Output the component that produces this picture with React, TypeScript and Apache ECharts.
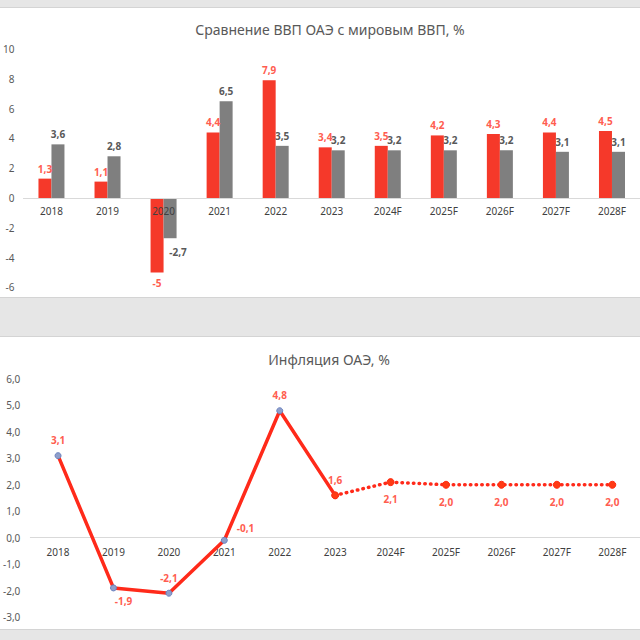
import React, { useEffect, useRef } from "react";
import * as echarts from "echarts";

const years = ["2018", "2019", "2020", "2021", "2022", "2023", "2024F", "2025F", "2026F", "2027F", "2028F"];
const uaeGdp = [1.3, 1.1, -5, 4.4, 7.9, 3.4, 3.5, 4.2, 4.3, 4.4, 4.5];
const worldGdp = [3.6, 2.8, -2.7, 6.5, 3.5, 3.2, 3.2, 3.2, 3.2, 3.1, 3.1];
const inflation = [3.1, -1.9, -2.1, -0.1, 4.8, 1.6, 2.1, 2.0, 2.0, 2.0, 2.0];
const actualCount = 6; // 2018–2023 are actual, rest forecast

const gdpTitle = "Сравнение ВВП ОАЭ с мировым ВВП, %";
const inflTitle = "Инфляция ОАЭ, %";

const FONT = "Noto Sans";
const RED = "#f5392a";
const GREY = "#7f7f7f";
const RED_LABEL = "#ff5d50";
const TEXT = "#595959";

const comma = (v: number) => String(v).replace(".", ",");
const comma1 = (v: number) => v.toFixed(1).replace(".", ",");

// grid geometry
const G1 = { top: 49, height: 238.4, min: -6, max: 10 };
const G2 = { top: 379, height: 238, min: -3, max: 6 };
const zeroOffset = (g: { height: number; min: number; max: number }) =>
  -(g.height * (0 - g.min)) / (g.max - g.min);

export default function App() {
  const ref = useRef<HTMLDivElement>(null);
  useEffect(() => {
    if (!ref.current) return;
    const chart = echarts.init(ref.current, null, { renderer: "svg" });

    const uaeData = uaeGdp.map((v) => ({
      value: v,
      label: v < 0 ? { position: "bottom" as const } : undefined,
    }));
    const worldData = worldGdp.map((v) => ({
      value: v,
      label: v < 0 ? { position: "bottom" as const, offset: [8, 4] } : undefined,
    }));

    const inflLabelPos = (i: number) => {
      if (i === 1) return { position: "bottom", offset: [10, 0] };
      if (i === 3) return { position: "right", offset: [4, -12] };
      if (i >= actualCount) return { position: "bottom", distance: 8 };
      return { position: "top", distance: 7 };
    };

    const solidData = inflation.map((v, i) =>
      i < actualCount ? { value: v, label: inflLabelPos(i) } : "-"
    );
    const dottedData = inflation.map((v, i) =>
      i >= actualCount - 1
        ? { value: v, label: i >= actualCount ? inflLabelPos(i) : { show: false } }
        : "-"
    );

    chart.setOption({
      animation: false,
      textStyle: { fontFamily: FONT },
      title: [
        {
          text: gdpTitle,
          left: 325,
          top: 17,
          textAlign: "center",
          textStyle: { fontSize: 14, fontWeight: "normal", color: TEXT, fontFamily: FONT },
        },
        {
          text: inflTitle,
          left: 324,
          top: 347,
          textAlign: "center",
          textStyle: { fontSize: 14, fontWeight: "normal", color: TEXT, fontFamily: FONT },
        },
      ],
      grid: [
        { left: 18.4, right: -7.6, top: G1.top, height: G1.height, containLabel: false },
        { left: 23.75, right: -5.25, top: G2.top, height: G2.height, containLabel: false },
      ],
      xAxis: [
        {
          type: "category",
          gridIndex: 0,
          data: years,
          z: 10,
          offset: zeroOffset(G1),
          axisLine: { onZero: false, lineStyle: { color: "#d9d9d9", width: 1 } },
          axisTick: { show: false },
          axisLabel: { color: "#404040", fontSize: 10, margin: 8, interval: 0, fontFamily: FONT },
        },
        {
          type: "category",
          gridIndex: 1,
          data: years,
          z: 1,
          offset: zeroOffset(G2),
          axisLine: { onZero: false, lineStyle: { color: "#d9d9d9", width: 1 } },
          axisTick: { show: false },
          axisLabel: { color: "#404040", fontSize: 10, margin: 9, interval: 0, fontFamily: FONT },
        },
      ],
      yAxis: [
        {
          type: "value",
          gridIndex: 0,
          min: G1.min,
          max: G1.max,
          interval: 2,
          splitLine: { show: false },
          axisLine: { show: false },
          axisTick: { show: false },
          axisLabel: { color: TEXT, fontSize: 10, margin: 9, fontFamily: FONT },
        },
        {
          type: "value",
          gridIndex: 1,
          min: G2.min,
          max: G2.max,
          interval: 1,
          splitLine: { show: false },
          axisLine: { show: false },
          axisTick: { show: false },
          axisLabel: { color: TEXT, fontSize: 10, margin: 10, formatter: (v: number) => comma1(v), fontFamily: FONT },
        },
      ],
      series: [
        {
          name: "ОАЭ",
          type: "bar",
          xAxisIndex: 0,
          yAxisIndex: 0,
          data: uaeData,
          barWidth: 13,
          barGap: "0%",
          itemStyle: { color: RED },
          label: {
            show: true,
            position: "top",
            distance: 5,
            color: RED_LABEL,
            fontSize: 10,
            fontWeight: "bold",
            fontFamily: FONT,
            formatter: (p: any) => comma(p.value),
          },
        },
        {
          name: "Мир",
          type: "bar",
          xAxisIndex: 0,
          yAxisIndex: 0,
          data: worldData,
          barWidth: 13,
          barGap: "0%",
          itemStyle: { color: GREY },
          label: {
            show: true,
            position: "top",
            distance: 5,
            color: TEXT,
            fontSize: 10,
            fontWeight: "bold",
            fontFamily: FONT,
            formatter: (p: any) => comma(p.value),
          },
        },
        {
          name: "Инфляция",
          type: "line",
          xAxisIndex: 1,
          yAxisIndex: 1,
          data: solidData,
          z: 3,
          lineStyle: { color: "#ff2a1a", width: 3.5 },
          symbol: "circle",
          symbolSize: 6,
          itemStyle: { color: "#8f9fca", borderColor: "#6a82c0", borderWidth: 1 },
          label: {
            show: true,
            color: RED_LABEL,
            fontSize: 10,
            fontWeight: "bold",
            fontFamily: FONT,
            formatter: (p: any) => comma1(p.value),
          },
        },
        {
          name: "Инфляция прогноз",
          type: "line",
          xAxisIndex: 1,
          yAxisIndex: 1,
          data: dottedData,
          z: 4,
          lineStyle: { color: "#ff2a1a", width: 3.5, type: [0.5, 5.2], cap: "round" },
          symbol: "circle",
          symbolSize: 7,
          itemStyle: { color: "#ff3a14", borderColor: "#ff2a10", borderWidth: 1 },
          label: {
            show: true,
            color: RED_LABEL,
            fontSize: 10,
            fontWeight: "bold",
            fontFamily: FONT,
            formatter: (p: any) => comma1(p.value),
          },
        },
      ],
    });
    return () => chart.dispose();
  }, []);

  return (
    <div
      style={{
        position: "fixed",
        left: 0,
        top: 0,
        width: 640,
        height: 640,
        background: "#e6e6e6",
        overflow: "hidden",
      }}
    >
      <div
        style={{
          position: "absolute",
          left: 0,
          top: 7,
          width: 640,
          height: 291,
          background: "#ffffff",
          borderTop: "1px solid #d4d4d4",
          borderBottom: "1px solid #d4d4d4",
          boxSizing: "border-box",
        }}
      />
      <div
        style={{
          position: "absolute",
          left: 0,
          top: 336,
          width: 640,
          height: 294,
          background: "#ffffff",
          borderTop: "1px solid #d4d4d4",
          borderBottom: "1px solid #d4d4d4",
          boxSizing: "border-box",
        }}
      />
      <div ref={ref} style={{ position: "absolute", left: 0, top: 0, width: 640, height: 640 }} />
    </div>
  );
}
